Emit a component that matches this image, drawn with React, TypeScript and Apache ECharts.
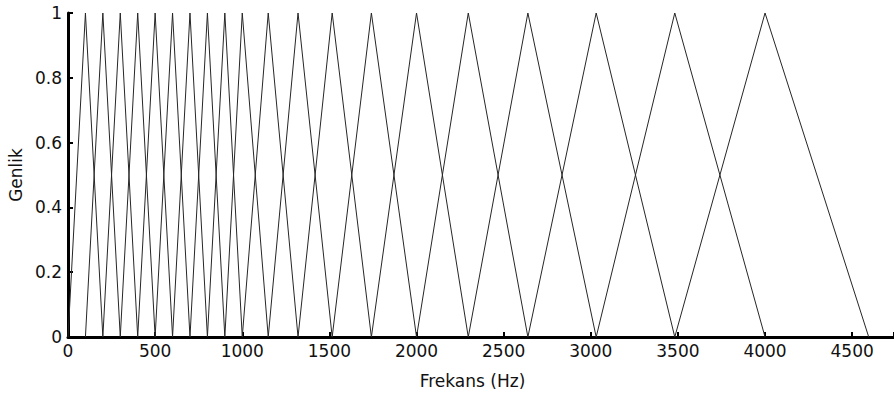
import React, { useEffect, useRef } from "react";
import * as echarts from "echarts";

// Filter edge / centre frequencies (Hz)
const edgeFreqs: number[] = [
  0, 100, 200, 300, 400, 500, 600, 700, 800, 900, 1000,
  1149, 1320, 1516, 1741, 2000, 2297, 2639, 3031, 3482, 4000, 4595,
];
const peakAmp = 1;
const yTicks: number[] = [0, 0.2, 0.4, 0.6, 0.8, 1];
const xTickLabels: number[] = [0, 500, 1000, 1500, 2000, 2500, 3000, 3500, 4000, 4500];

export default function App() {
  const ref = useRef<HTMLDivElement>(null);
  useEffect(() => {
    document.body.style.margin = "0";
    if (!ref.current) return;
    const chart = echarts.init(ref.current, undefined, { renderer: "svg" });
    const series: any[] = [];
    for (let i = 1; i < edgeFreqs.length - 1; i++) {
      series.push({
        type: "line",
        data: [
          [edgeFreqs[i - 1], 0],
          [edgeFreqs[i], peakAmp],
          [edgeFreqs[i + 1], 0],
        ],
        showSymbol: false,
        symbol: "none",
        lineStyle: { color: "#262626", width: 1 },
        z: 1,
      });
    }
    const font = "DejaVu Sans";
    chart.setOption({
      animation: false,
      backgroundColor: "#ffffff",
      grid: {
        left: 68,
        right: 0,
        top: 13,
        bottom: 58,
        containLabel: false,
        outerBoundsMode: "none",
      },
      xAxis: {
        type: "value",
        min: 0,
        max: 4740,
        interval: 500,
        name: "Frekans (Hz)",
        nameLocation: "middle",
        nameGap: 35,
        nameTextStyle: { color: "#111", fontSize: 17, fontFamily: font, padding: [0, 17, 0, 0] },
        axisLine: { show: true, lineStyle: { color: "#000", width: 3 } },
        axisTick: { show: true, inside: true, length: 5, lineStyle: { color: "#000", width: 2 } },
        axisLabel: {
          color: "#111",
          fontSize: 17,
          fontFamily: font,
          margin: 5,
          formatter: (v: number) => (xTickLabels.indexOf(v) >= 0 ? String(v) : ""),
        },
        splitLine: { show: false },
      },
      yAxis: {
        type: "value",
        min: 0,
        max: 1,
        interval: 0.2,
        name: "Genlik",
        nameLocation: "middle",
        nameGap: 43,
        nameTextStyle: { color: "#111", fontSize: 17, fontFamily: font },
        axisLine: { show: true, lineStyle: { color: "#000", width: 3 } },
        axisTick: { show: true, inside: true, length: 5, lineStyle: { color: "#000", width: 2 } },
        axisLabel: {
          color: "#111",
          fontSize: 17,
          fontFamily: font,
          margin: 6,
          formatter: (v: number) => {
            const m = yTicks.find((t) => Math.abs(t - v) < 1e-9);
            return m === undefined ? "" : String(m);
          },
        },
        splitLine: { show: false },
      },
      series,
    });
    return () => chart.dispose();
  }, []);
  return <div ref={ref} style={{ width: 894, height: 395 }} />;
}
